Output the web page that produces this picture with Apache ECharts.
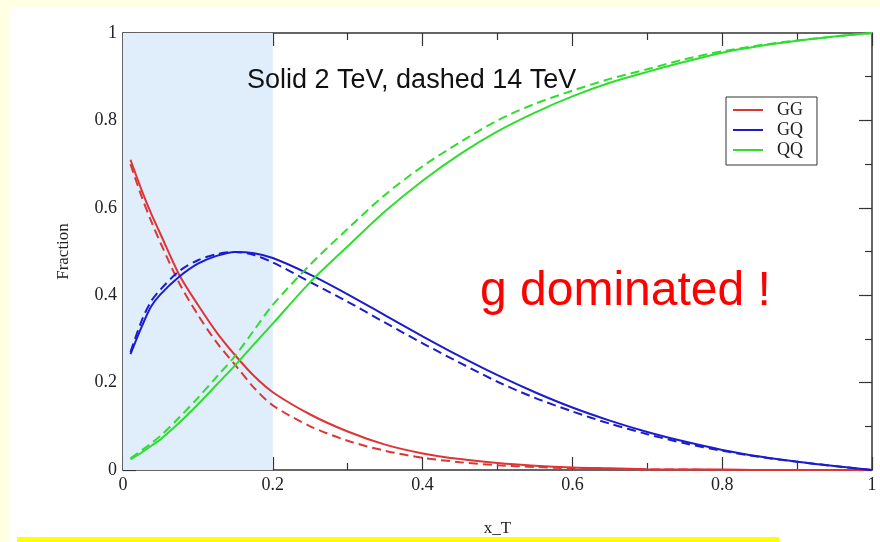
<!DOCTYPE html>
<html>
<head>
<meta charset="utf-8">
<script src="https://cdn.jsdelivr.net/npm/echarts@6/dist/echarts.min.js"></script>
<style>
html, body { margin: 0; padding: 0; background: #ffffe4; }
#chart { width: 880px; height: 542px; }
</style>
</head>
<body>
<div id="chart"></div>
<script>
// x_T sample points
var xT = [0.01, 0.025, 0.0375, 0.05, 0.075, 0.1, 0.125, 0.15, 0.175, 0.2, 0.25, 0.3, 0.35, 0.4, 0.45, 0.5, 0.55, 0.6, 0.65, 0.7, 0.75, 0.8, 0.85, 0.9, 0.95, 1.0];

// solid = 2 TeV, dashed = 14 TeV
var gg2 = [0.71, 0.64, 0.587, 0.54, 0.447, 0.378, 0.315, 0.262, 0.215, 0.178, 0.127, 0.088, 0.058, 0.038, 0.025, 0.016, 0.010, 0.006, 0.004, 0.002, 0.001, 0.001, 0, 0, 0, 0];
var gg14 = [0.70, 0.625, 0.57, 0.52, 0.428, 0.355, 0.292, 0.24, 0.188, 0.148, 0.10, 0.067, 0.044, 0.028, 0.018, 0.011, 0.007, 0.004, 0.002, 0.001, 0.001, 0, 0, 0, 0, 0];
var gq2 = [0.265, 0.328, 0.374, 0.402, 0.442, 0.472, 0.49, 0.499, 0.496, 0.485, 0.447, 0.402, 0.354, 0.306, 0.26, 0.217, 0.178, 0.143, 0.113, 0.087, 0.065, 0.046, 0.031, 0.019, 0.009, 0];
var gq14 = [0.27, 0.342, 0.386, 0.413, 0.455, 0.48, 0.494, 0.499, 0.492, 0.475, 0.43, 0.385, 0.337, 0.29, 0.245, 0.202, 0.165, 0.134, 0.106, 0.082, 0.061, 0.044, 0.03, 0.019, 0.009, 0];
var qq2 = [0.024, 0.04, 0.055, 0.07, 0.108, 0.15, 0.195, 0.24, 0.288, 0.335, 0.43, 0.512, 0.592, 0.662, 0.723, 0.775, 0.818, 0.855, 0.886, 0.911, 0.934, 0.955, 0.97, 0.982, 0.992, 1.0];
var qq14 = [0.027, 0.045, 0.061, 0.078, 0.12, 0.165, 0.213, 0.262, 0.32, 0.378, 0.47, 0.552, 0.63, 0.695, 0.75, 0.8, 0.838, 0.868, 0.895, 0.917, 0.94, 0.958, 0.972, 0.983, 0.992, 1.0];

var names = ['GG', 'GQ', 'QQ'];
var colors = ['#dd3535', '#1c1ccc', '#2ede2e'];
var shadeRange = [0, 0.2];

var serif = '"Liberation Serif", "DejaVu Serif", serif';
var sans = '"Liberation Sans", Arial, sans-serif';

function pairs(ys) {
    return xT.map(function(x, i) { return [x, ys[i]]; });
}

function axisBase(pos, labels) {
    return {
        type: 'value',
        position: pos,
        min: 0,
        max: 1,
        interval: 0.2,
        axisLine: { show: true, onZero: false, lineStyle: { color: '#333', width: 1.5 } },
        axisTick: { show: true, inside: true, length: 13, lineStyle: { color: '#333', width: 1.2 } },
        minorTick: { show: true, splitNumber: 2, length: 7, lineStyle: { color: '#333', width: 1.2 } },
        splitLine: { show: false },
        axisLabel: { show: labels, margin: 6, color: '#222', fontFamily: serif, fontSize: 18 }
    };
}

var xBottom = axisBase('bottom', true);
xBottom.name = 'x_T';
xBottom.nameLocation = 'middle';
xBottom.nameGap = 50;
xBottom.nameTextStyle = { fontFamily: serif, fontSize: 17, color: '#222' };

var yLeft = axisBase('left', true);
yLeft.name = 'Fraction';
yLeft.nameLocation = 'middle';
yLeft.nameGap = 51;
yLeft.nameTextStyle = { fontFamily: serif, fontSize: 17, color: '#222' };

var lineSet = [[gg2, gg14], [gq2, gq14], [qq2, qq14]];
var series = [];
lineSet.forEach(function(pair, k) {
    series.push({
        name: names[k],
        type: 'line',
        data: pairs(pair[0]),
        smooth: 0.3,
        showSymbol: false,
        symbol: 'none',
        lineStyle: { color: colors[k], width: 2 },
        itemStyle: { color: colors[k] },
        z: 3
    });
    series.push({
        name: names[k],
        type: 'line',
        data: pairs(pair[1]),
        smooth: 0.3,
        showSymbol: false,
        symbol: 'none',
        lineStyle: { color: colors[k], width: 2, type: [9, 5] },
        itemStyle: { color: colors[k] },
        z: 3
    });
});

// light blue band 0 - 0.2
series[0].markArea = {
    silent: true,
    itemStyle: { color: '#e0eefc' },
    data: [[{ xAxis: shadeRange[0] }, { xAxis: shadeRange[1] }]]
};

var chart = echarts.init(document.getElementById('chart'));
chart.setOption({
    backgroundColor: '#ffffe4',
    animation: false,
    grid: { left: 123, right: 8, top: 33, bottom: 64 },
    xAxis: [xBottom, axisBase('top', false)],
    yAxis: [yLeft, axisBase('right', false)],
    legend: {
        data: names,
        orient: 'vertical',
        left: 726,
        top: 97,
        backgroundColor: '#fff',
        borderColor: '#333',
        borderWidth: 1,
        borderRadius: 0,
        padding: [4, 14, 6, 7],
        itemGap: 2,
        itemWidth: 30,
        itemHeight: 2,
        icon: 'rect',
        textStyle: { fontFamily: serif, fontSize: 18, color: '#222', padding: [0, 0, 0, 9] }
    },
    graphic: [
        { type: 'rect', z: -1, shape: { x: 9, y: 7, width: 871, height: 535 }, style: { fill: '#fff' } },
        { type: 'rect', z: -1, shape: { x: 17, y: 537, width: 762, height: 5 }, style: { fill: '#ffff00' } },
        {
            type: 'text', z: 10, left: 247, top: 67,
            style: { text: 'Solid 2 TeV, dashed 14 TeV', font: '27px ' + sans, fill: '#111' }
        },
        {
            type: 'text', z: 10, left: 480, top: 268,
            style: { text: 'g dominated !', font: '48px ' + sans, fill: '#ff0000' }
        }
    ],
    series: series
});
</script>
</body>
</html>
